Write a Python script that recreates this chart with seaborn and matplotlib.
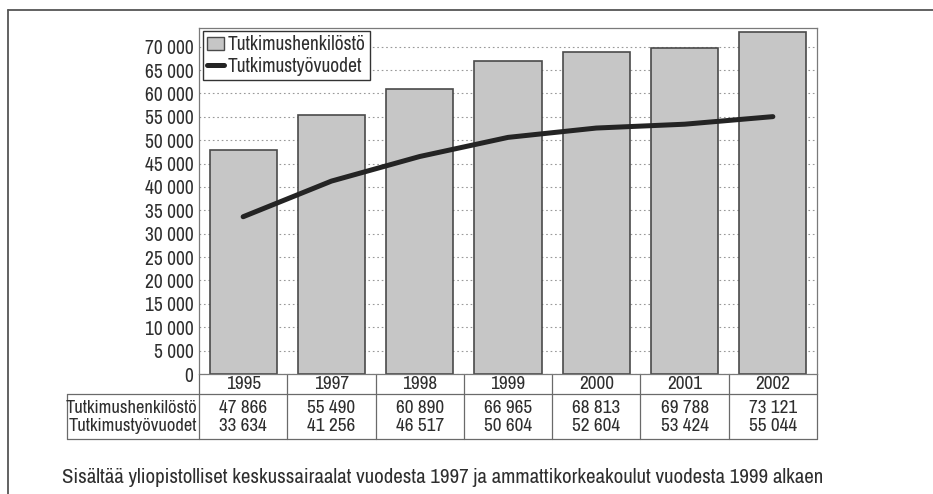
import numpy as np
import matplotlib
matplotlib.use("Agg")
import matplotlib.pyplot as plt
import matplotlib.transforms as mtransforms
from matplotlib.lines import Line2D
from matplotlib.patches import Patch
from matplotlib.textpath import TextPath
from matplotlib.font_manager import FontProperties
import seaborn as sns

years = ["1995", "1997", "1998", "1999", "2000", "2001", "2002"]
henkilosto = [47866, 55490, 60890, 66965, 68813, 69788, 73121]
tyovuodet = [33634, 41256, 46517, 50604, 52604, 53424, 55044]
row_labels = ["Tutkimushenkilöstö", "Tutkimustyövuodet"]
yticks = list(range(0, 70001, 5000))
footnote = ("Sisältää yliopistolliset keskussairaalat vuodesta 1997 ja "
            "ammattikorkeakoulut vuodesta 1999 alkaen")

sns.set_theme(style="white")
plt.rcParams["font.family"] = ["Archivo Narrow", "DejaVu Sans"]

W, H = 933, 494
fig = plt.figure(figsize=(W / 100, H / 100), dpi=100)
fig.patch.set_facecolor("white")

# plot area in pixels: left 199, right 817, top 28, bottom 374
ax_l, ax_r, ax_t, ax_b = 199, 817, 28, 374
ax = fig.add_axes([ax_l / W, 1 - ax_b / H, (ax_r - ax_l) / W, (ax_b - ax_t) / H])

txt = "#2e2e2e"
fs = 13.8
sns.barplot(x=years, y=henkilosto, color="#c6c6c6", edgecolor="#4a4a4a",
            linewidth=1.2, width=0.76, saturation=1, ax=ax, zorder=2)
sns.lineplot(x=np.arange(len(years)), y=tyovuodet, color="#242424",
             linewidth=3.6, ax=ax, zorder=3)

ax.set_xlim(-0.5, len(years) - 0.5)
ax.set_ylim(0, 74000)
ax.set_yticks(yticks)
ax.set_yticklabels([f"{v:,}".replace(",", " ") for v in yticks], fontsize=14, color=txt)
ax.set_xticks([])
ax.set_xlabel("")
ax.set_ylabel("")
ax.tick_params(axis="y", length=0, pad=4)
ax.set_axisbelow(True)
ax.yaxis.grid(True, linestyle=(0, (1.5, 2.5)), color="#999999", linewidth=0.8)
for s in ax.spines.values():
    s.set_color("#7a7a7a")
    s.set_linewidth(0.9)

handles = [Patch(facecolor="#c6c6c6", edgecolor="#4a4a4a", linewidth=1.0),
           Line2D([0], [0], color="#242424", linewidth=3.6)]
leg = ax.legend(handles, row_labels, loc="upper left", fontsize=14,
                bbox_to_anchor=(0.006, 0.99), handlelength=0.9, handleheight=0.7,
                handletextpad=0.2, labelspacing=0.12, borderpad=0.2,
                borderaxespad=0.0, fancybox=False, framealpha=1)
leg.get_frame().set_edgecolor("#333333")
leg.get_frame().set_linewidth(1.0)
for t in leg.get_texts():
    t.set_color(txt)

# table below the axis
def ay(py):
    return (ax_b - py) / (ax_b - ax_t)

def axx(px):
    return (px - ax_l) / (ax_r - ax_l)

blend = mtransforms.blended_transform_factory(ax.transData, ax.transAxes)
lc, lw = "#6a6a6a", 0.9
y_hdr_top, y_hdr_bot, y_tab_bot = ay(374), ay(394), ay(439)
x_lab = axx(67)
n = len(years)
for i in range(n + 1):
    ax.plot([i - 0.5, i - 0.5], [y_hdr_top, y_tab_bot], transform=blend,
            color=lc, lw=lw, clip_on=False)
ax.plot([x_lab, 1], [y_hdr_bot, y_hdr_bot], transform=ax.transAxes, color=lc, lw=lw, clip_on=False)
ax.plot([x_lab, 1], [y_tab_bot, y_tab_bot], transform=ax.transAxes, color=lc, lw=lw, clip_on=False)
ax.plot([x_lab, x_lab], [y_hdr_bot, y_tab_bot], transform=ax.transAxes, color=lc, lw=lw, clip_on=False)

for i, yr in enumerate(years):
    ax.text(i, ay(384), yr, transform=blend, ha="center", va="center", fontsize=fs, color=txt)
    ax.text(i, ay(408), f"{henkilosto[i]:,}".replace(",", " "), transform=blend,
            ha="center", va="center", fontsize=fs, color=txt)
    ax.text(i, ay(426), f"{tyovuodet[i]:,}".replace(",", " "), transform=blend,
            ha="center", va="center", fontsize=fs, color=txt)
for lab, py in zip(row_labels, [408, 426]):
    ax.text(axx(197), ay(py), lab, transform=ax.transAxes, ha="right", va="center",
            fontsize=13.3, color=txt)

# footnote sized to span the same width as in the reference (62..821 px)
fp = FontProperties(family="Archivo Narrow")
w1 = TextPath((0, 0), footnote, size=1, prop=fp).get_extents().width
fn_fs = (821 - 62) / w1 * 72 / 100
fig.text(62 / W, 1 - 477 / H, footnote, ha="left", va="center", fontsize=fn_fs, color=txt)

# outer frame (top and left)
fig.add_artist(Line2D([8 / W, 1], [1 - 10 / H, 1 - 10 / H], transform=fig.transFigure,
                      color="#555555", lw=1.3))
fig.add_artist(Line2D([8 / W, 8 / W], [1 - 10 / H, 0], transform=fig.transFigure,
                      color="#555555", lw=1.3))

fig.savefig("out.png", dpi=100)
